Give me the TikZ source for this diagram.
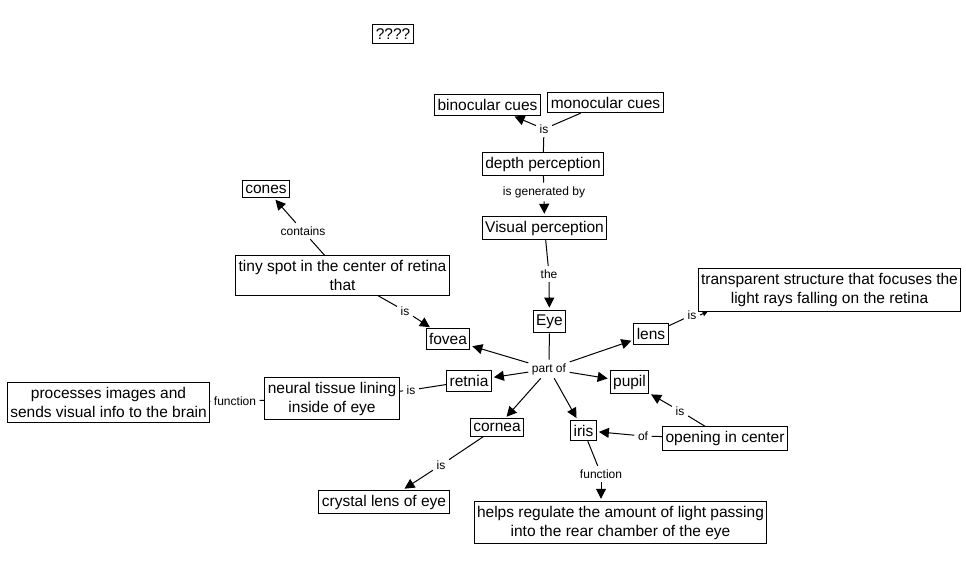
\documentclass[tikz,border=0pt]{standalone}
\usepackage{fontspec}
\setmainfont{Liberation Sans}
\usetikzlibrary{arrows.meta}
\tikzset{
  concept/.style={draw, line width=1pt, align=center, inner xsep=3pt, inner ysep=4.5pt,
    font=\fontsize{15.5}{19}\selectfont},
  lbl/.style={inner sep=3.5pt, font=\fontsize{12}{14}\selectfont},
  conn/.style={line width=1pt},
  arr/.style={line width=1pt, -{Triangle[length=10pt,width=10pt]}, shorten >=2pt},
}
\begin{document}
\begin{tikzpicture}[x=1pt,y=-1pt]
\useasboundingbox (0,0) rectangle (966,565);
% concepts
\node[concept] (q) at (393,34) {????};
\node[concept] (bino) at (487.5,105) {binocular cues};
\node[concept] (mono) at (605.5,102.5) {monocular cues};
\node[concept] (depth) at (543,164) {depth perception};
\node[concept] (vis) at (544.5,228) {Visual perception};
\node[concept] (eye) at (549.5,321.5) {Eye};
\node[concept] (fovea) at (448,339) {fovea};
\node[concept] (lens) at (651,334) {lens};
\node[concept] (trans) at (829.5,290) {transparent structure that focuses the\\light rays falling on the retina};
\node[concept] (retnia) at (469,381) {retnia};
\node[concept] (pupil) at (629.5,382) {pupil};
\node[concept] (neural) at (332,398.5) {neural tissue lining\\inside of eye};
\node[concept] (proc) at (108.5,402.5) {processes images and\\sends visual info to the brain};
\node[concept] (cornea) at (497,427.5) {cornea};
\node[concept] (iris) at (583.5,430.5) {iris};
\node[concept] (open) at (725,438.5) {opening in center};
\node[concept] (crystal) at (384,502) {crystal lens of eye};
\node[concept] (helps) at (620.5,522.5) {helps regulate the amount of light passing\\into the rear chamber of the eye};
\node[concept] (cones) at (266,189) {cones};
\node[concept] (tiny) at (342.5,275.5) {tiny spot in the center of retina\\that};
% link labels
\node[lbl] (l1) at (544,129) {is};
\node[lbl] (l2) at (544,192) {is generated by};
\node[lbl] (l3) at (549,274) {the};
\node[lbl] (l4) at (549,369) {part of};
\node[lbl] (l5) at (692,315) {is};
\node[lbl] (l6) at (411,390) {is};
\node[lbl] (l7) at (235,401) {function};
\node[lbl] (l8) at (441,465) {is};
\node[lbl] (l9) at (601,474) {function};
\node[lbl] (l10) at (643,436) {of};
\node[lbl] (l11) at (680,411) {is};
\node[lbl] (l12) at (405,311) {is};
\node[lbl] (l13) at (303,231) {contains};
% connectors
\draw[conn] (depth) -- (l1);
\draw[arr] (l1) -- (bino);
\draw[conn] (mono) -- (l1);
\draw[conn] (depth) -- (l2);
\draw[arr] (l2) -- (vis);
\draw[conn] (vis) -- (l3);
\draw[arr] (l3) -- (eye);
\draw[conn] (eye) -- (l4);
\draw[arr] (l4) -- (fovea);
\draw[arr] (l4) -- (lens);
\draw[arr] (l4) -- (retnia);
\draw[arr] (l4) -- (pupil);
\draw[arr] (l4) -- (cornea);
\draw[arr] (l4) -- (iris);
\draw[conn] (lens) -- (l5);
\draw[line width=1pt, -{Triangle[length=5pt,width=5pt]}] (l5.east) -- ([xshift=10pt]trans.south west);
\draw[conn] (retnia) -- (l6);
\draw[conn] (l6) -- (neural);
\draw[conn] (neural) -- (l7);
\draw[conn] (l7) -- (proc);
\draw[conn] (cornea) -- (l8);
\draw[arr] (l8) -- (crystal);
\draw[conn] (iris) -- (l9);
\draw[arr] (l9) -- (l9 |- helps.north);
\draw[conn] (open) -- (l10);
\draw[arr] (l10) -- (iris);
\draw[conn] (open) -- (l11);
\draw[arr] (l11) -- (pupil);
\draw[conn] (tiny) -- (l12);
\draw[arr] (l12) -- (fovea);
\draw[conn] (tiny) -- (l13);
\draw[arr] (l13) -- (cones);
\end{tikzpicture}
\end{document}
